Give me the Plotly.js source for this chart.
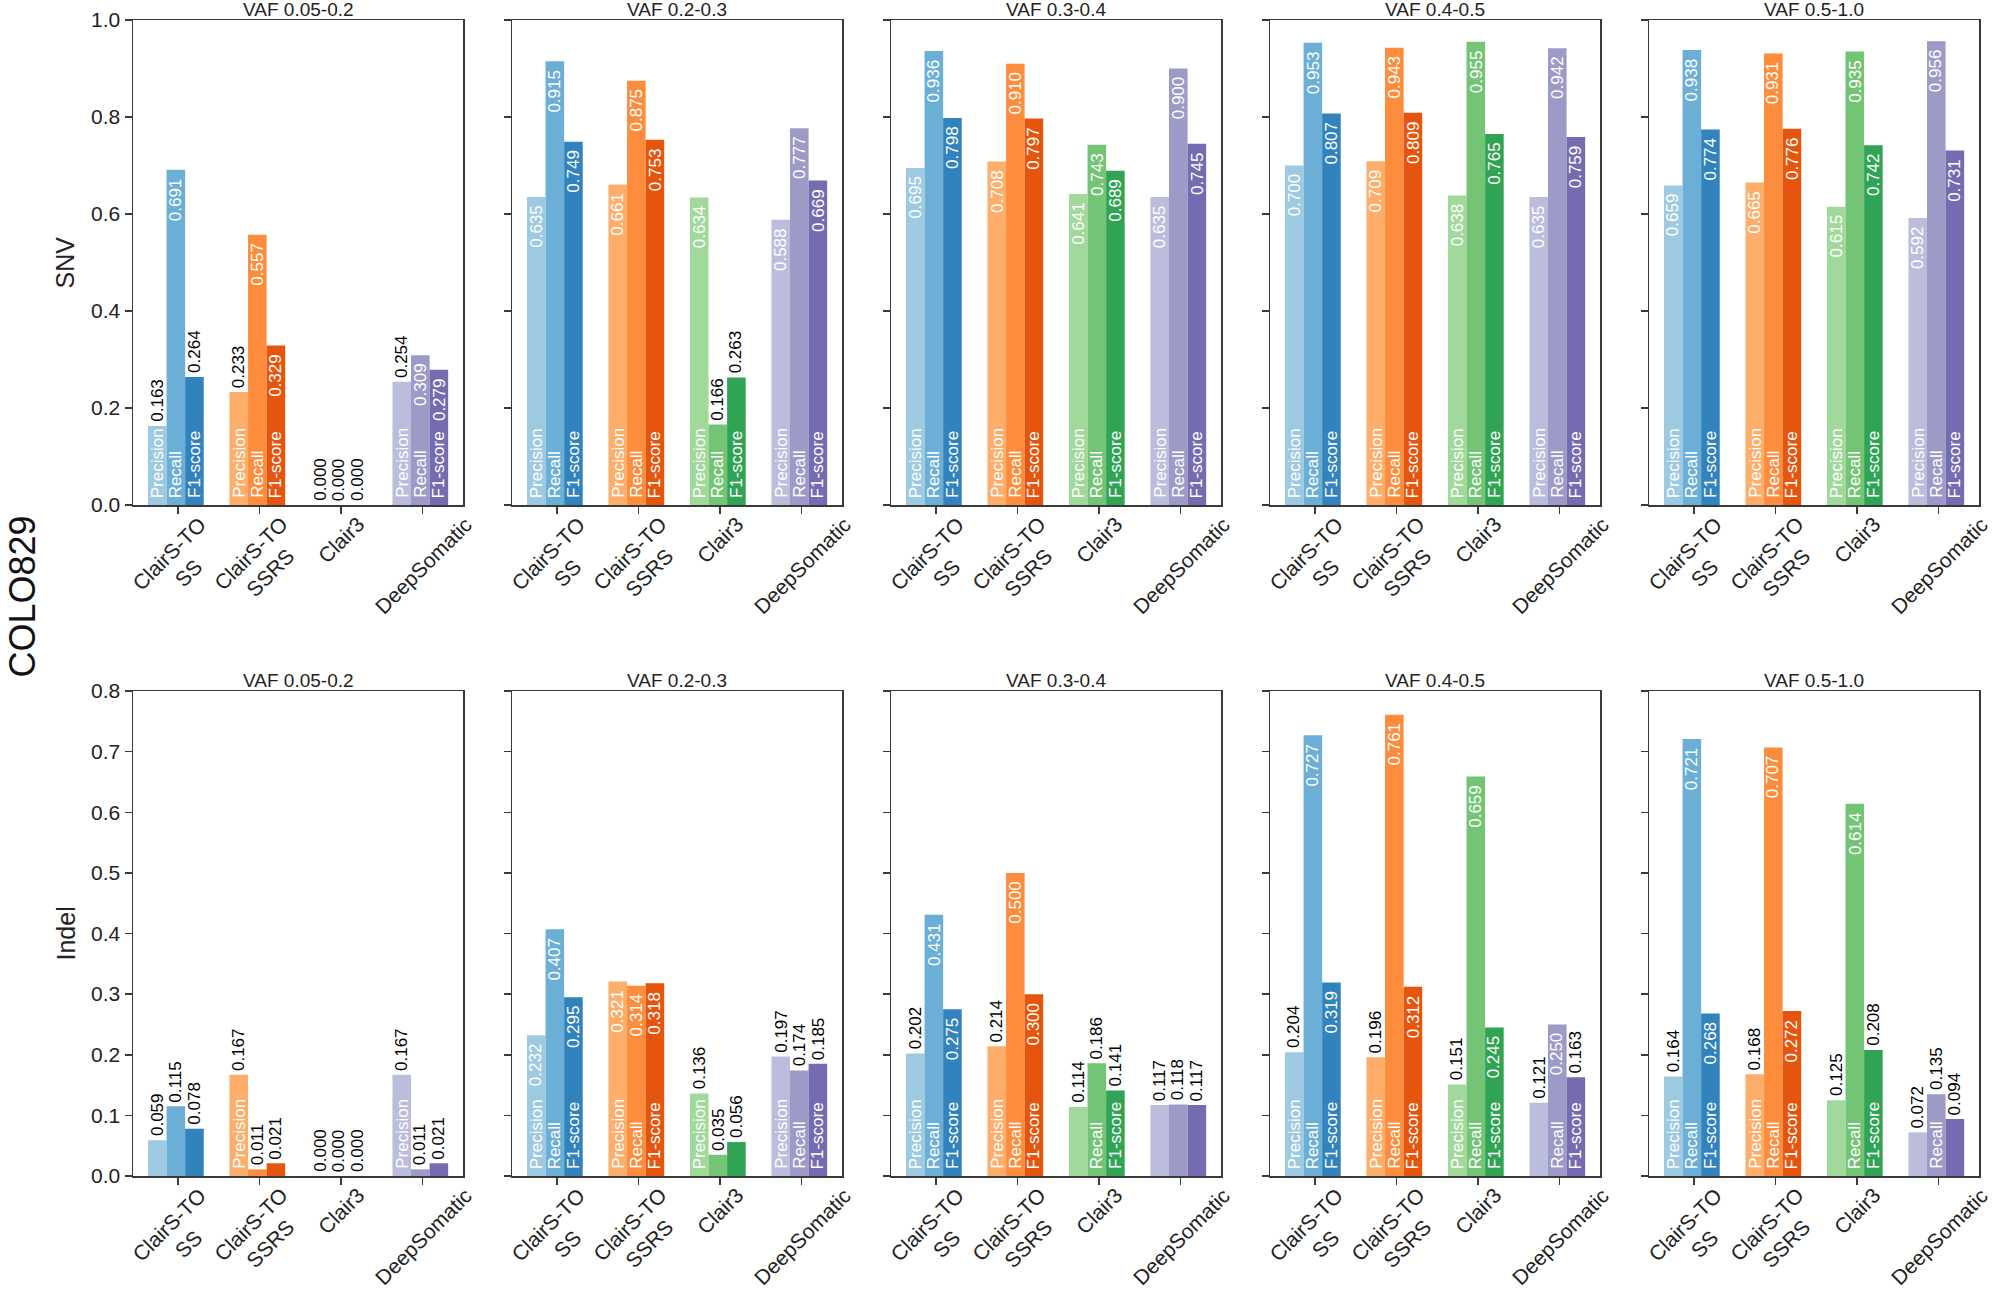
<!DOCTYPE html>
<html><head><meta charset="utf-8">
<script src="https://cdn.plot.ly/plotly-3.0.1.min.js"></script>
<style>html,body{margin:0;padding:0;background:#fff}</style>
</head><body><div id="chart" style="width:2000px;height:1289px"></div>
<script>
// ---------- data ----------
const sample = 'COLO829';
const variantTypes = ['SNV', 'Indel'];
const tools = ['ClairS-TO<br>SS', 'ClairS-TO<br>SSRS', 'Clair3', 'DeepSomatic'];
const metrics = ['Precision', 'Recall', 'F1-score'];
const vafBins = ['VAF 0.05-0.2', 'VAF 0.2-0.3', 'VAF 0.3-0.4', 'VAF 0.4-0.5', 'VAF 0.5-1.0'];
const snvTicks = [0.0, 0.2, 0.4, 0.6, 0.8, 1.0];
const indelTicks = [0.0, 0.1, 0.2, 0.3, 0.4, 0.5, 0.6, 0.7, 0.8];

// each row: one tool, [Precision, Recall, F1-score]
const snv_vaf_005_02 = [[0.163, 0.691, 0.264], [0.233, 0.557, 0.329], [0.000, 0.000, 0.000], [0.254, 0.309, 0.279]];
const snv_vaf_02_03  = [[0.635, 0.915, 0.749], [0.661, 0.875, 0.753], [0.634, 0.166, 0.263], [0.588, 0.777, 0.669]];
const snv_vaf_03_04  = [[0.695, 0.936, 0.798], [0.708, 0.910, 0.797], [0.641, 0.743, 0.689], [0.635, 0.900, 0.745]];
const snv_vaf_04_05  = [[0.700, 0.953, 0.807], [0.709, 0.943, 0.809], [0.638, 0.955, 0.765], [0.635, 0.942, 0.759]];
const snv_vaf_05_10  = [[0.659, 0.938, 0.774], [0.665, 0.931, 0.776], [0.615, 0.935, 0.742], [0.592, 0.956, 0.731]];

const indel_vaf_005_02 = [[0.059, 0.115, 0.078], [0.167, 0.011, 0.021], [0.000, 0.000, 0.000], [0.167, 0.011, 0.021]];
const indel_vaf_02_03  = [[0.232, 0.407, 0.295], [0.321, 0.314, 0.318], [0.136, 0.035, 0.056], [0.197, 0.174, 0.185]];
const indel_vaf_03_04  = [[0.202, 0.431, 0.275], [0.214, 0.500, 0.300], [0.114, 0.186, 0.141], [0.117, 0.118, 0.117]];
const indel_vaf_04_05  = [[0.204, 0.727, 0.319], [0.196, 0.761, 0.312], [0.151, 0.659, 0.245], [0.121, 0.250, 0.163]];
const indel_vaf_05_10  = [[0.164, 0.721, 0.268], [0.168, 0.707, 0.272], [0.125, 0.614, 0.208], [0.072, 0.135, 0.094]];

const snvPanels = [snv_vaf_005_02, snv_vaf_02_03, snv_vaf_03_04, snv_vaf_04_05, snv_vaf_05_10];
const indelPanels = [indel_vaf_005_02, indel_vaf_02_03, indel_vaf_03_04, indel_vaf_04_05, indel_vaf_05_10];

// ---------- style ----------
const shades = [
  ['#9ecae1', '#6baed6', '#3182bd'],
  ['#fdae6b', '#fd8d3c', '#e6550d'],
  ['#a1d99b', '#74c476', '#31a354'],
  ['#bcbddc', '#9e9ac8', '#756bb1']
];
const FONT = 'Liberation Sans, Arial, Helvetica, sans-serif';
const W = 2000, H = 1289;
const colLeft0 = 133, colStep = 379, panelW = 330;
const rowTops = [20, 691], panelH = 485;
const barW = 0.228, groupShift = -0.024;
const axisColor = '#3a3a3a';

const rows = [
  {name: variantTypes[0], panels: snvPanels, ticks: snvTicks, ymax: 1.0},
  {name: variantTypes[1], panels: indelPanels, ticks: indelTicks, ymax: 0.8}
];

const data = [];
const annotations = [];
const layout = {
  width: W, height: H,
  margin: {l: 0, r: 0, t: 0, b: 0},
  paper_bgcolor: '#fff', plot_bgcolor: '#fff',
  font: {family: FONT, color: '#222'},
  barmode: 'overlay',
  showlegend: false
};

rows.forEach((row, r) => {
  row.panels.forEach((vals, c) => {
    const k = r * 5 + c + 1;
    const xs = k === 1 ? '' : String(k);
    const xa = 'x' + xs, ya = 'y' + xs;
    const left = colLeft0 + colStep * c;
    const top = rowTops[r];
    layout['xaxis' + xs] = {
      domain: [left / W, (left + panelW) / W],
      range: [-0.55, 3.50],
      anchor: ya,
      tickvals: [0, 1, 2, 3],
      showticklabels: false,
      ticks: 'outside', ticklen: 7, tickwidth: 1.5, tickcolor: axisColor,
      showline: true, linecolor: axisColor, linewidth: 1.5, mirror: true,
      showgrid: false, zeroline: false, fixedrange: true
    };
    layout['yaxis' + xs] = {
      domain: [1 - (top + panelH) / H, 1 - top / H],
      range: [0, row.ymax],
      anchor: xa,
      tickvals: row.ticks,
      tickformat: '.1f',
      showticklabels: c === 0,
      tickfont: {size: 21, family: FONT, color: '#222'},
      ticks: 'outside', ticklen: 7, tickwidth: 1.5, tickcolor: axisColor,
      showline: true, linecolor: axisColor, linewidth: 1.5, mirror: true,
      showgrid: false, zeroline: false, fixedrange: true
    };
    // panel title
    annotations.push({
      xref: xa + ' domain', yref: ya + ' domain', x: 0.5, y: 1,
      xanchor: 'center', yanchor: 'bottom', yshift: -1, borderpad: 0,
      text: vafBins[c], showarrow: false, font: {size: 19, family: FONT, color: '#222'}
    });
    vals.forEach((triple, g) => {
      const xpos = metrics.map((_, m) => g + (m - 1) * barW + groupShift);
      data.push({
        type: 'bar', x: xpos, y: triple, width: barW,
        marker: {color: shades[g], line: {width: 0}},
        xaxis: xa, yaxis: ya, hoverinfo: 'skip', showlegend: false
      });
      triple.forEach((v, m) => {
        const rel = v / row.ymax;
        if (rel > 0.16) {
          annotations.push({
            xref: xa, yref: ya, x: xpos[m], y: 0, xanchor: 'center', yanchor: 'bottom',
            yshift: 6, textangle: -90, text: metrics[m], showarrow: false, borderpad: 0,
            font: {size: 17, family: FONT, color: '#ffffff'}
          });
        }
        if (rel > 0.27) {
          annotations.push({
            xref: xa, yref: ya, x: xpos[m], y: v, xanchor: 'center', yanchor: 'top',
            yshift: -7, textangle: -90, text: v.toFixed(3), showarrow: false, borderpad: 0,
            font: {size: 17, family: FONT, color: '#ffffff'}
          });
        } else {
          annotations.push({
            xref: xa, yref: ya, x: xpos[m], y: v, xanchor: 'center', yanchor: 'bottom',
            yshift: 3, textangle: -90, text: v.toFixed(3), showarrow: false, borderpad: 0,
            font: {size: 17, family: FONT, color: '#000000'}
          });
        }
      });
      // category label
      annotations.push({
        xref: xa, yref: ya + ' domain', x: g, y: 0, xanchor: 'center', yanchor: 'top',
        yshift: -6, xshift: 1, textangle: -45, text: tools[g], align: 'center', showarrow: false,
        borderpad: 0, font: {size: 21, family: FONT, color: '#222'}
      });
    });
  });
  // row title
  annotations.push({
    xref: 'paper', yref: 'paper', x: 65 / W, y: 1 - (rowTops[r] + panelH / 2) / H,
    xanchor: 'center', yanchor: 'middle', textangle: -90, text: row.name, showarrow: false,
    font: {size: 25, family: FONT, color: '#222'}
  });
});

annotations.push({
  xref: 'paper', yref: 'paper', x: 0, y: 1 - 597 / H,
  xanchor: 'left', yanchor: 'middle', textangle: -90, text: sample, showarrow: false,
  borderpad: 0, font: {size: 36, family: FONT, color: '#111'}
});

layout.annotations = annotations;
Plotly.newPlot('chart', data, layout, {staticPlot: true, displayModeBar: false});
</script>
</body></html>
